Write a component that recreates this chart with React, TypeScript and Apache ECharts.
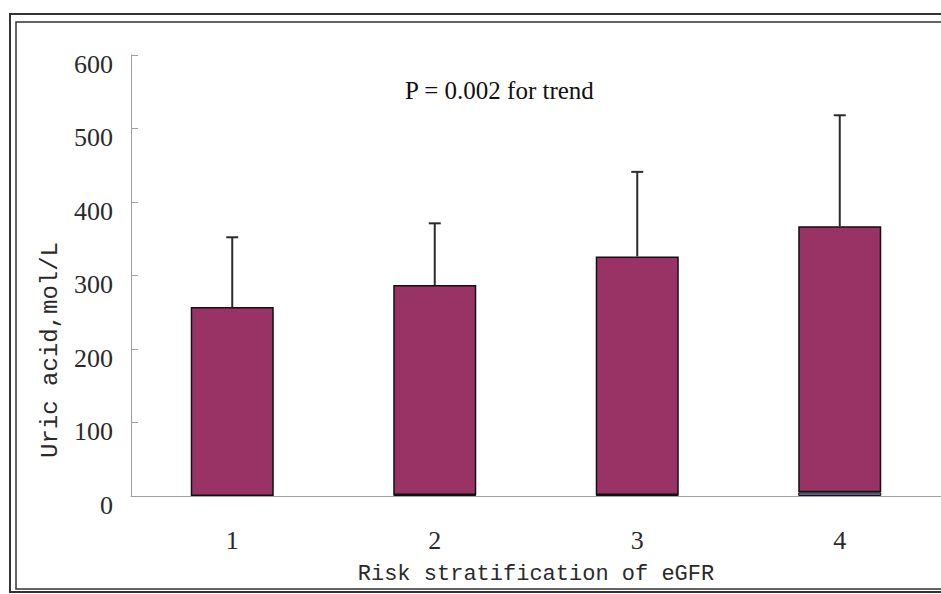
import React, { useEffect, useRef } from "react";
import * as echarts from "echarts";

const categories = ["1", "2", "3", "4"];
const meanValues = [257, 287, 326, 367];
const baseSegment = [0, 1.5, 1.5, 5];
const upperValues = [352, 371, 441, 518];
const yTicks = [0, 100, 200, 300, 400, 500, 600];

export default function App() {
  const ref = useRef<HTMLDivElement>(null);
  useEffect(() => {
    const chart = echarts.init(ref.current!, null, { renderer: "svg" });
    const topSegment = meanValues.map((m, i) => m - baseSegment[i]);
    const baseData = baseSegment.map((v) => (v > 0 ? v : null));
    chart.setOption({
      animation: false,
      backgroundColor: "#ffffff",
      grid: { left: 131, top: 55, width: 812, bottom: 98 },
      xAxis: {
        type: "category",
        data: categories,
        axisLine: { lineStyle: { color: "#a0a0a0", width: 1 } },
        axisTick: { inside: true, length: 7, lineStyle: { color: "#a0a0a0" } },
        axisLabel: {
          margin: 31,
          fontFamily: "Liberation Serif",
          fontSize: 26,
          color: "#2a2a2a",
        },
        name: "Risk stratification of eGFR",
        nameLocation: "middle",
        nameGap: 67,
        nameTextStyle: {
          fontFamily: "Liberation Mono",
          fontSize: 22,
          color: "#2a2a2a",
        },
      },
      yAxis: {
        type: "value",
        min: yTicks[0],
        max: yTicks[yTicks.length - 1],
        interval: 100,
        axisLine: { show: true, lineStyle: { color: "#a0a0a0", width: 1 } },
        axisTick: { show: true, inside: true, length: 7, lineStyle: { color: "#a0a0a0" } },
        splitLine: { show: false },
        axisLabel: {
          margin: 18,
          fontFamily: "Liberation Serif",
          fontSize: 26,
          color: "#2a2a2a",
          verticalAlign: "top",
          lineHeight: 18,
        },
      },
      graphic: [
        {
          type: "rect",
          shape: { x: 10, y: 14, width: 1000, height: 578 },
          style: { fill: "none", stroke: "#333", lineWidth: 2 },
          silent: true,
        },
        {
          type: "rect",
          shape: { x: 16, y: 22, width: 1000, height: 567 },
          style: { fill: "none", stroke: "#333", lineWidth: 1.5 },
          silent: true,
        },
        {
          type: "text",
          x: 405,
          y: 90,
          style: {
            text: "P = 0.002 for trend",
            font: '25px "Liberation Serif"',
            fill: "#111",
            verticalAlign: "middle",
            align: "left",
          },
        },
        {
          type: "text",
          x: 50,
          y: 350,
          rotation: Math.PI / 2,
          style: {
            text: "Uric acid,mol/L",
            font: '24px "Liberation Mono"',
            fill: "#2a2a2a",
            verticalAlign: "middle",
            align: "center",
          },
        },
      ],
      series: [
        {
          type: "bar",
          stack: "u",
          data: baseData,
          barWidth: "41%",
          itemStyle: { color: "#666699", borderColor: "#111", borderWidth: 1 },
        },
        {
          type: "bar",
          stack: "u",
          data: topSegment,
          barWidth: "41%",
          itemStyle: { color: "#993366", borderColor: "#111", borderWidth: 1.5 },
        },
        {
          type: "custom",
          data: categories.map((c, i) => [i, meanValues[i], upperValues[i]]),
          z: 10,
          renderItem: (params: any, api: any) => {
            const x = api.value(0);
            const p0 = api.coord([x, api.value(1)]);
            const p1 = api.coord([x, api.value(2)]);
            const half = 6;
            const style = { stroke: "#2b2b2b", lineWidth: 2 };
            return {
              type: "group",
              children: [
                { type: "line", shape: { x1: p0[0], y1: p0[1], x2: p1[0], y2: p1[1] }, style },
                { type: "line", shape: { x1: p1[0] - half, y1: p1[1], x2: p1[0] + half, y2: p1[1] }, style },
              ],
            };
          },
        },
      ],
    });
    return () => chart.dispose();
  }, []);
  return (
    <div
      ref={ref}
      style={{ position: "absolute", left: 0, top: 0, width: 941, height: 594 }}
    />
  );
}
